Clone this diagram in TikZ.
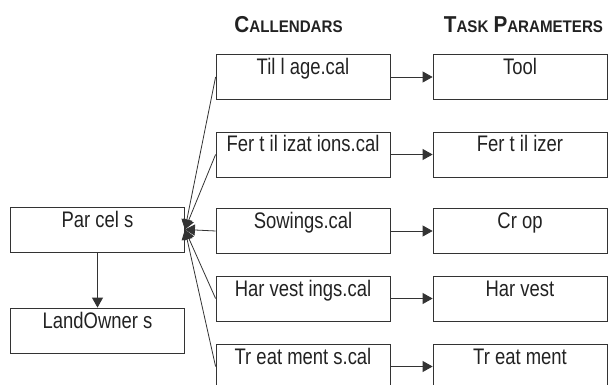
\documentclass[tikz,border=0pt]{standalone}
\usepackage{fontspec}
\setmainfont{Liberation Sans}[FakeStretch=0.82]
\newfontfamily\hdfont{Liberation Sans}[FakeStretch=0.9]
\usetikzlibrary{arrows.meta}
\definecolor{ink}{HTML}{222222}
\definecolor{edge}{HTML}{333333}
\newcommand\bigsmall[2]{{\fontsize{23}{23}\selectfont #1}{\fontsize{16.8}{16.8}\selectfont #2}}
\begin{document}
\begin{tikzpicture}[x=1pt,y=-1pt,
  box/.style={draw=edge, line width=0.8pt, minimum width=174pt, inner xsep=0pt, inner ysep=0pt,
    text height=20pt, text depth=25pt, text=ink, font=\fontsize{22.5}{22.5}\selectfont},
  hdr/.style={anchor=base, text=ink, font=\hdfont\bfseries, inner sep=0pt},
  arr/.style={draw=edge, line width=0.8pt, -{Triangle[length=10pt,width=11pt]}}]
\useasboundingbox (0,0) rectangle (608,385);
\clip (0,0) rectangle (608,385);
\node[hdr] (h1) at (288.5,33) {\bigsmall{C}{ALLENDARS}};
\node[hdr] (h2) at (523.5,33) {\bigsmall{T}{ASK}\hspace{5pt}\bigsmall{P}{ARAMETERS}};
\node[box] (parcels) at (97.5,229.5) {Par cel s};
\node[box] (land) at (97.5,330.5) {LandOwner s};
\node[box] (till) at (303,77) {Til l age.cal};
\node[box] (fert) at (303,154.5) {Fer t il izat ions.cal};
\node[box] (sow) at (303,231) {Sowings.cal};
\node[box] (harv) at (303,298.5) {Har vest ings.cal};
\node[box] (treat) at (303,366.5) {Tr eat ment s.cal};
\node[box] (tool) at (520,77) {Tool};
\node[box] (fertz) at (520,154.5) {Fer t il izer};
\node[box] (crop) at (520,231) {Cr op};
\node[box] (harvest) at (520,298.5) {Har vest};
\node[box] (treatment) at (520,366.5) {Tr eat ment};
\draw[arr] (parcels) -- (land);
\foreach \a/\b in {till/tool, fert/fertz, sow/crop, harv/harvest, treat/treatment}{
  \draw[arr] (\a.east) -- (\b.west);
  \draw[arr] (\a.west) -- (parcels.east);
}
\end{tikzpicture}
\end{document}
